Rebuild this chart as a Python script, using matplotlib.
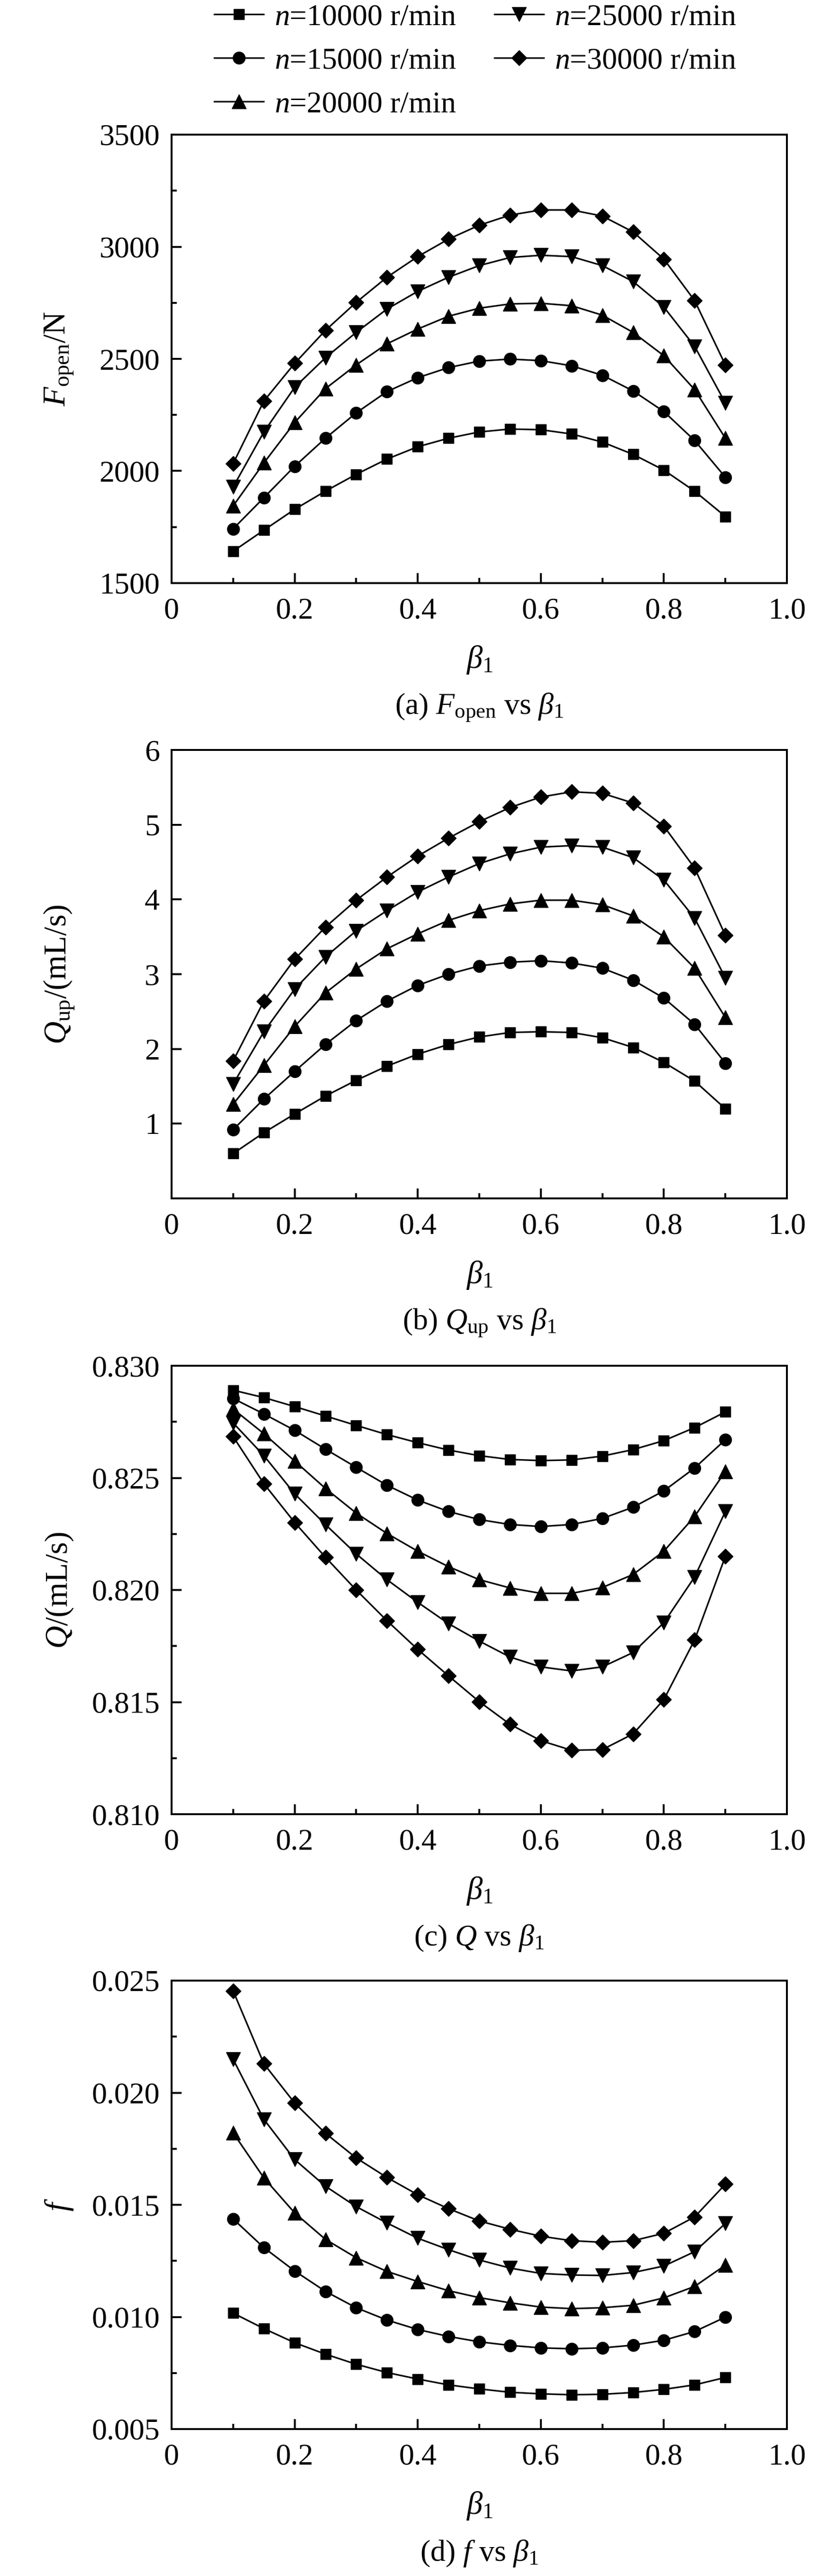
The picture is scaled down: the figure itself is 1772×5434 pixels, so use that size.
import matplotlib
matplotlib.use("Agg")
import matplotlib.pyplot as plt
from matplotlib.ticker import MultipleLocator, FixedLocator, FuncFormatter

plt.rcParams.update({
    "font.family": "serif",
    "font.serif": ["Liberation Serif", "DejaVu Serif"],
    "mathtext.fontset": "custom",
    "mathtext.rm": "Liberation Serif",
    "mathtext.it": "Liberation Serif:italic",
    "mathtext.bf": "Liberation Serif:bold",
    "font.size": 46,
    "axes.linewidth": 2.9,
})

# ---- data ----
beta = [0.10, 0.15, 0.20, 0.25, 0.30, 0.35, 0.40, 0.45, 0.50,
        0.55, 0.60, 0.65, 0.70, 0.75, 0.80, 0.85, 0.90]
speed_labels = ["$n$=10000 r/min", "$n$=15000 r/min", "$n$=20000 r/min",
                "$n$=25000 r/min", "$n$=30000 r/min"]

# (a) opening force F_open / N
fopen_10000 = [1642, 1736, 1829, 1910, 1985, 2053, 2108, 2146, 2174,
               2187, 2184, 2165, 2129, 2074, 2004, 1910, 1797]
fopen_15000 = [1742, 1881, 2021, 2146, 2259, 2354, 2416, 2461, 2490,
               2499, 2492, 2469, 2427, 2357, 2265, 2136, 1972]
fopen_20000 = [1844, 2036, 2216, 2367, 2473, 2567, 2633, 2690, 2726,
               2745, 2748, 2737, 2695, 2618, 2514, 2363, 2146]
fopen_25000 = [1929, 2174, 2373, 2505, 2618, 2722, 2801, 2864, 2916,
               2952, 2962, 2956, 2916, 2845, 2731, 2556, 2303]
fopen_30000 = [2033, 2312, 2480, 2627, 2752, 2864, 2956, 3034, 3096,
               3141, 3164, 3164, 3137, 3066, 2945, 2760, 2473]

# (b) upstream pumping rate Q_up / (mL/s)
qup_10000 = [0.60, 0.88, 1.13, 1.37, 1.58, 1.77, 1.93, 2.06, 2.16,
             2.22, 2.23, 2.22, 2.15, 2.02, 1.82, 1.57, 1.20]
qup_15000 = [0.92, 1.33, 1.70, 2.06, 2.38, 2.64, 2.85, 3.00, 3.11,
             3.16, 3.18, 3.15, 3.08, 2.92, 2.68, 2.33, 1.81]
qup_20000 = [1.26, 1.78, 2.30, 2.75, 3.07, 3.34, 3.54, 3.72, 3.85,
             3.94, 3.99, 3.99, 3.93, 3.78, 3.50, 3.08, 2.42]
qup_25000 = [1.53, 2.23, 2.80, 3.23, 3.58, 3.85, 4.10, 4.30, 4.48,
             4.61, 4.70, 4.72, 4.70, 4.56, 4.26, 3.75, 2.95]
qup_30000 = [1.84, 2.64, 3.20, 3.63, 3.99, 4.30, 4.58, 4.82, 5.04,
             5.23, 5.37, 5.44, 5.42, 5.29, 4.98, 4.42, 3.52]

# (c) leakage rate Q / (mL/s)
q_10000 = [0.82891, 0.82858, 0.82818, 0.82776, 0.82734, 0.82693, 0.82657, 0.82624, 0.82599,
           0.82582, 0.82577, 0.82580, 0.82597, 0.82626, 0.82666, 0.82724, 0.82794]
q_15000 = [0.82854, 0.82785, 0.82712, 0.82628, 0.82547, 0.82467, 0.82401, 0.82350, 0.82314,
           0.82292, 0.82283, 0.82292, 0.82319, 0.82369, 0.82442, 0.82544, 0.82670]
q_20000 = [0.82807, 0.82697, 0.82575, 0.82453, 0.82343, 0.82252, 0.82173, 0.82104, 0.82046,
           0.82009, 0.81985, 0.81985, 0.82011, 0.82069, 0.82173, 0.82328, 0.82529]
q_25000 = [0.82745, 0.82599, 0.82429, 0.82292, 0.82161, 0.82046, 0.81945, 0.81850, 0.81772,
           0.81701, 0.81657, 0.81639, 0.81657, 0.81721, 0.81854, 0.82058, 0.82350]
q_30000 = [0.82684, 0.82474, 0.82301, 0.82146, 0.82000, 0.81863, 0.81735, 0.81617, 0.81502,
           0.81401, 0.81328, 0.81285, 0.81288, 0.81358, 0.81511, 0.81777, 0.82150]

# (d) friction coefficient f
f_10000 = [0.01017, 0.00948, 0.00885, 0.00834, 0.00789, 0.00752, 0.00723, 0.00697, 0.00679,
           0.00664, 0.00657, 0.00653, 0.00655, 0.00663, 0.00677, 0.00697, 0.00730]
f_15000 = [0.01437, 0.01309, 0.01205, 0.01114, 0.01041, 0.00986, 0.00944, 0.00913, 0.00889,
           0.00873, 0.00862, 0.00858, 0.00862, 0.00874, 0.00896, 0.00935, 0.00999]
f_20000 = [0.01821, 0.01620, 0.01464, 0.01346, 0.01264, 0.01203, 0.01158, 0.01117, 0.01086,
           0.01063, 0.01044, 0.01037, 0.01041, 0.01052, 0.01085, 0.01136, 0.01231]
f_25000 = [0.02149, 0.01881, 0.01702, 0.01583, 0.01492, 0.01419, 0.01351, 0.01300, 0.01254,
           0.01218, 0.01194, 0.01187, 0.01185, 0.01198, 0.01227, 0.01291, 0.01417]
f_30000 = [0.02454, 0.02129, 0.01954, 0.01819, 0.01709, 0.01622, 0.01545, 0.01483, 0.01428,
           0.01391, 0.01360, 0.01340, 0.01333, 0.01340, 0.01373, 0.01446, 0.01592]

# ---- styles ----
markers = ["s", "o", "^", "v", "D"]
msizes = [16.5, 18.5, 22, 22, 16.3]

panels = [
    dict(series=[fopen_10000, fopen_15000, fopen_20000, fopen_25000, fopen_30000],
         ylim=(1500, 3500), major=500, minor=250, fmt=lambda v, p: f"{v:.0f}",
         ylabel=r"$F_{\mathrm{open}}$/N", caption=r"(a) $F_{\mathrm{open}}$ vs $\beta_1$"),
    dict(series=[qup_10000, qup_15000, qup_20000, qup_25000, qup_30000],
         ylim=(0, 6), major=1, minor=None, fmt=lambda v, p: "" if abs(v) < 1e-9 else f"{v:.0f}",
         ylabel=r"$Q_{\mathrm{up}}$/(mL/s)", caption=r"(b) $Q_{\mathrm{up}}$ vs $\beta_1$"),
    dict(series=[q_10000, q_15000, q_20000, q_25000, q_30000],
         ylim=(0.810, 0.830), major=0.005, minor=0.0025, fmt=lambda v, p: f"{v:.3f}",
         ylabel=r"$Q$/(mL/s)", caption=r"(c) $Q$ vs $\beta_1$"),
    dict(series=[f_10000, f_15000, f_20000, f_25000, f_30000],
         ylim=(0.005, 0.025), major=0.005, minor=0.0025, fmt=lambda v, p: f"{v:.3f}",
         ylabel=r"$f$", caption=r"(d) $f$ vs $\beta_1$"),
]

W, H = 1772, 5434
fig = plt.figure(figsize=(W / 100, H / 100), dpi=100)
ax_left, ax_w, ax_h = 362, 1298, 946
tops = [284, 1582, 2881, 4178]

handles = None
for spec, top in zip(panels, tops):
    ax = fig.add_axes([ax_left / W, 1 - (top + ax_h) / H, ax_w / W, ax_h / H])
    lines = []
    for vals, m, ms, lab in zip(spec["series"], markers, msizes, speed_labels):
        ln, = ax.plot(beta, vals, color="black", lw=2.4, marker=m, ms=ms,
                      mfc="black", mec="black", label=lab, clip_on=False)
        lines.append(ln)
    if handles is None:
        handles = lines
    ax.set_xlim(0, 1.0)
    ax.set_ylim(*spec["ylim"])
    ax.xaxis.set_major_locator(MultipleLocator(0.2))
    ax.xaxis.set_minor_locator(FixedLocator([0.1, 0.3, 0.5, 0.7, 0.9]))
    ax.xaxis.set_major_formatter(FuncFormatter(lambda v, p: "0" if abs(v) < 1e-9 else f"{v:.1f}"))
    ax.yaxis.set_major_locator(MultipleLocator(spec["major"]))
    if spec["minor"]:
        ax.yaxis.set_minor_locator(MultipleLocator(spec["minor"]))
    ax.yaxis.set_major_formatter(FuncFormatter(spec["fmt"]))
    ax.tick_params(which="both", direction="in", top=False, right=False, width=2.9)
    ax.tick_params(which="major", length=15)
    ax.tick_params(which="minor", length=8)
    ax.tick_params(axis="x", which="both", pad=22)
    ax.tick_params(axis="y", which="both", pad=18)
    ax.set_xlabel(r"$\beta_1$", fontsize=48)
    ax.xaxis.set_label_coords(0.5, -162 / ax_h)
    ax.xaxis.label.set_va("center")
    ax.set_ylabel(spec["ylabel"], fontsize=48)
    ax.yaxis.set_label_coords((125 - ax_left) / ax_w, 0.5)
    ax.yaxis.label.set_va("center")
    ax.text(0.5, -262 / ax_h, spec["caption"], transform=ax.transAxes,
            ha="center", va="center", fontsize=46)

fig.legend(handles, speed_labels, loc="upper left", bbox_to_anchor=(452 / W, 1 - 8 / H),
           ncol=2, frameon=False, fontsize=46, handlelength=1.63, handletextpad=0.36,
           columnspacing=1.27, labelspacing=0.52, borderpad=0, borderaxespad=0)

fig.savefig("out.png", dpi=100, facecolor="white")
